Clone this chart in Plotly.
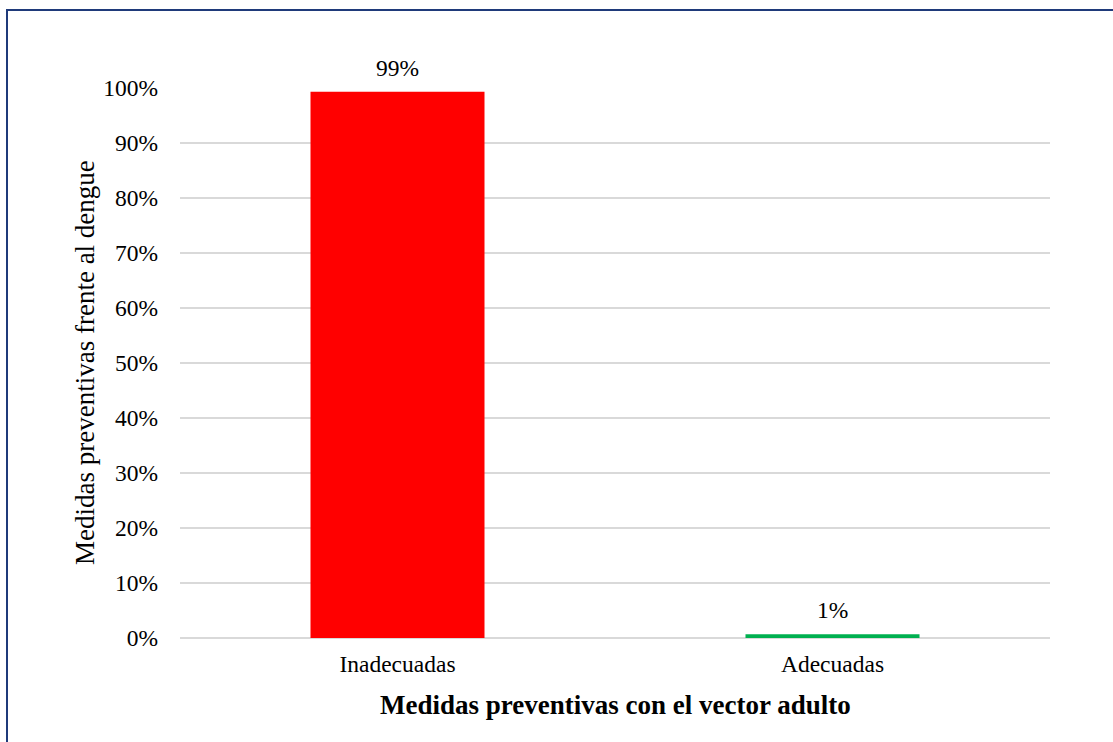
import plotly.graph_objects as go

# Data
categorias = ["Inadecuadas", "Adecuadas"]
porcentajes = [99.3, 0.7]
colores = ["#FF0000", "#00B050"]
y_ticks = [0, 10, 20, 30, 40, 50, 60, 70, 80, 90, 100]
y_tick_labels = [f"{v}%" for v in y_ticks]

FONT = "Liberation Serif, Times New Roman, serif"
TICK_SIZE = 23.5
TITLE_SIZE = 27
W, H = 1113, 742
L, R, T, B = 180, 63, 88, 104
plot_w = W - L - R
plot_h = H - T - B


def px_x(x):
    return (x - L) / plot_w


def px_y(y):
    return (H - B - y) / plot_h


fig = go.Figure(
    go.Bar(
        x=categorias,
        y=porcentajes,
        marker=dict(color=colores, line=dict(width=0)),
        width=0.40,
    )
)

# Value labels above each bar
for cat, val in zip(categorias, porcentajes):
    fig.add_annotation(
        x=cat, y=val,
        xref="x", yref="y",
        text=f"{val:.0f}%",
        showarrow=False,
        yanchor="bottom",
        yshift=9,
        font=dict(family=FONT, size=TICK_SIZE, color="#000000"),
    )

fig.update_layout(
    width=W,
    height=H,
    margin=dict(l=L, r=R, t=T, b=B),
    paper_bgcolor="white",
    plot_bgcolor="white",
    showlegend=False,
    font=dict(family=FONT, size=TICK_SIZE, color="#000000"),
    bargap=0.6,
)

fig.update_xaxes(
    showgrid=False,
    showline=False,
    zeroline=False,
    ticks="",
    ticklabelstandoff=9,
    tickfont=dict(family=FONT, size=TICK_SIZE, color="#000000"),
)

fig.update_yaxes(
    range=[0, 100],
    tickvals=y_ticks,
    ticktext=y_tick_labels,
    showgrid=True,
    gridcolor="#D9D9D9",
    gridwidth=1.5,
    zeroline=True,
    zerolinecolor="#D9D9D9",
    zerolinewidth=1.5,
    showline=False,
    ticks="",
    ticklabelstandoff=21,
    tickfont=dict(family=FONT, size=TICK_SIZE, color="#000000"),
)

# Axis titles
fig.add_annotation(
    text="<b>Medidas preventivas con el vector adulto</b>",
    xref="paper", yref="paper",
    x=0.5, y=px_y(705),
    xanchor="center", yanchor="middle",
    showarrow=False,
    font=dict(family=FONT, size=TITLE_SIZE, color="#000000"),
)
fig.add_annotation(
    text="Medidas preventivas frente al dengue",
    xref="paper", yref="paper",
    x=px_x(85), y=0.5,
    xanchor="center", yanchor="middle",
    textangle=-90,
    showarrow=False,
    font=dict(family=FONT, size=TITLE_SIZE, color="#000000"),
)

# Chart frame
fig.add_shape(
    type="rect",
    xref="paper", yref="paper",
    x0=px_x(7), x1=px_x(1125),
    y0=px_y(760), y1=px_y(10),
    line=dict(color="#1F3A7A", width=2),
    fillcolor="rgba(0,0,0,0)",
    layer="above",
)

fig.write_html("out.html")
